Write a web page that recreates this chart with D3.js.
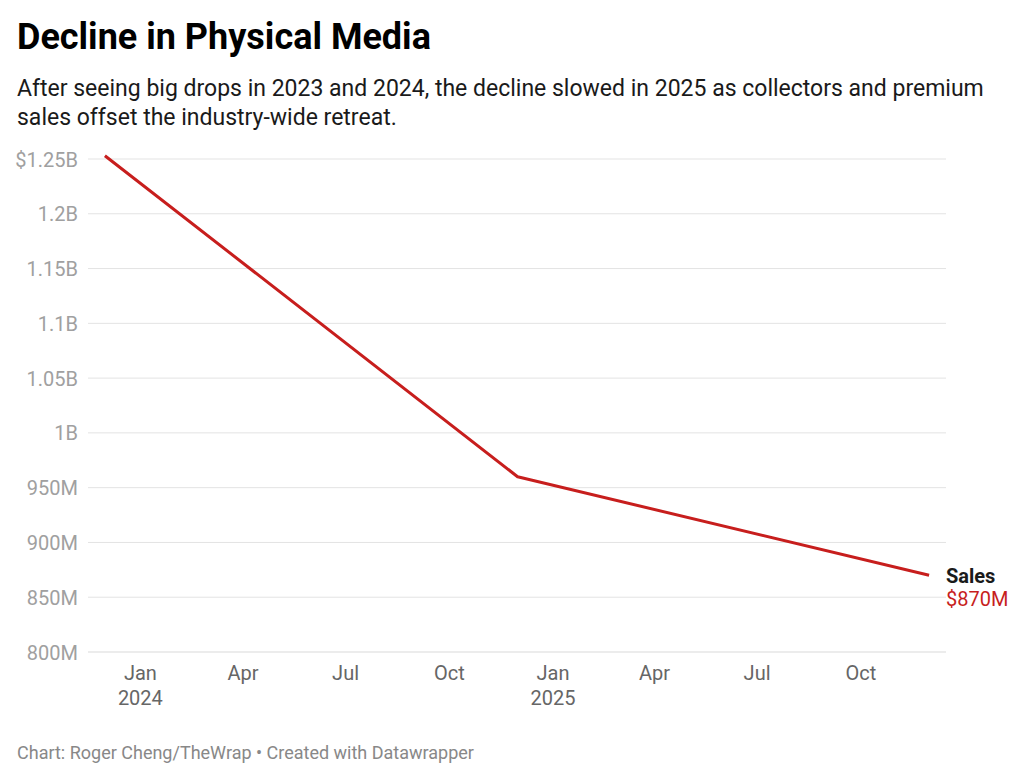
<!DOCTYPE html>
<html><head><meta charset="utf-8">
<script src="https://cdn.jsdelivr.net/npm/d3@7"></script>
<style>
body{margin:0;background:#fff;font-family:Roboto,"Noto Sans",sans-serif;}
</style></head>
<body><svg id="c" width="1024" height="781"></svg>
<script>
const dates = ["2023-12-01","2024-12-01","2025-12-01"];
const sales = [1.253e9, 0.960e9, 0.870e9];
const yTicks = [800e6,850e6,900e6,950e6,1.0e9,1.05e9,1.1e9,1.15e9,1.2e9,1.25e9];
const yTickLabels = ["800M","850M","900M","950M","1B","1.05B","1.1B","1.15B","1.2B","$1.25B"];
const xTicks = ["2024-01-01","2024-04-01","2024-07-01","2024-10-01","2025-01-01","2025-04-01","2025-07-01","2025-10-01"];
const xTickLabels = [["Jan","2024"],["Apr"],["Jul"],["Oct"],["Jan","2025"],["Apr"],["Jul"],["Oct"]];
const seriesName = "Sales";
const lastLabel = "$870M";

const svg = d3.select("#c");
const parse = d3.utcParse("%Y-%m-%d");
const data = dates.map((d,i)=>({date:parse(d), v:sales[i]}));

const x = d3.scaleUtc().domain([parse("2023-11-16"), parse("2025-12-16")]).range([88, 946]);
const y = d3.scaleLinear().domain([800e6, 1.25e9]).range([652, 159]);

svg.append("text").attr("x",17).attr("y",49).attr("font-size",36).attr("font-weight",700).attr("fill","#000").text("Decline in Physical Media");
const sub = svg.append("text").attr("font-size",23).attr("fill","#1a1a1a");
sub.append("tspan").attr("x",17).attr("y",96).text("After seeing big drops in 2023 and 2024, the decline slowed in 2025 as collectors and premium");
sub.append("tspan").attr("x",17).attr("y",125).text("sales offset the industry-wide retreat.");

// grid
const yAxis = d3.axisLeft(y).tickValues(yTicks).tickSize(0).tickFormat((d,i)=>yTickLabels[i]);
const gy = svg.append("g").attr("transform","translate(78,0)").call(yAxis);
gy.select(".domain").remove();
gy.selectAll("text").attr("font-size",20).attr("fill","#a0a0a0").attr("font-family","Roboto").attr("dy","0.35em").attr("x",0);
svg.append("g").selectAll("line").data(yTicks).join("line")
  .attr("x1",88).attr("x2",946).attr("y1",d=>y(d)).attr("y2",d=>y(d))
  .attr("stroke",d=>d===800e6?"#d9d9d9":"#e3e3e3").attr("stroke-width",1);

// x axis
const xAxis = d3.axisBottom(x).tickValues(xTicks.map(parse)).tickSize(0).tickFormat("");
const gx = svg.append("g").attr("transform","translate(0,652)").call(xAxis);
gx.select(".domain").remove();
gx.selectAll(".tick").each(function(d,i){
  const t = d3.select(this).append("text").attr("fill","#666").attr("font-size",20).attr("text-anchor","middle").attr("font-family","Roboto");
  xTickLabels[i].forEach((s,j)=>t.append("tspan").attr("x",0).attr("y",28+j*25).text(s));
});

// line
svg.append("path").datum(data)
  .attr("d", d3.line().x(d=>x(d.date)).y(d=>y(d.v)))
  .attr("fill","none").attr("stroke","#c71e1d").attr("stroke-width",3).attr("stroke-linejoin","round");

const last = data[data.length-1];
svg.append("text").attr("x",946).attr("y",y(last.v)+8).attr("font-size",20).attr("font-weight",700).attr("fill","#1a1a1a").text(seriesName);
svg.append("text").attr("x",946).attr("y",y(last.v)+31).attr("font-size",20).attr("fill","#c71e1d").text(lastLabel);

svg.append("text").attr("x",17).attr("y",759).attr("font-size",18).attr("fill","#888").text("Chart: Roger Cheng/TheWrap • Created with Datawrapper");
</script></body></html>
